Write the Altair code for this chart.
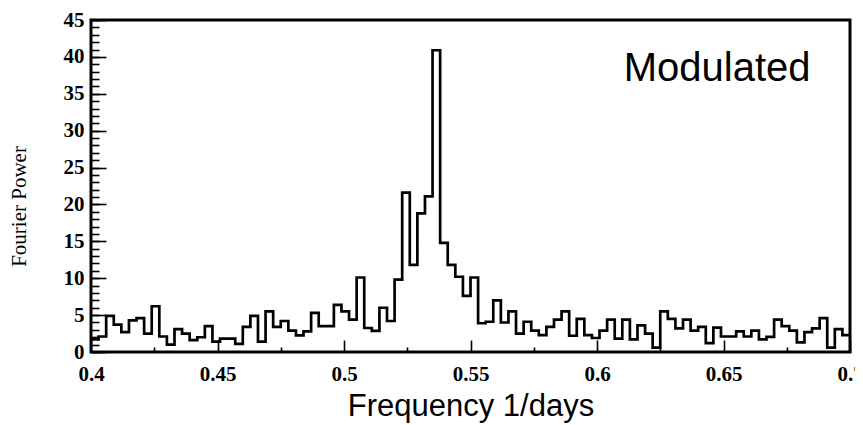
import altair as alt
import pandas as pd

# --- data ---
freq_start = 0.4
bin_width = 0.003
power = [
    1.7, 2.1, 4.9, 3.7, 2.7, 4.3, 4.6, 2.5, 6.2, 2.1,
    1.0, 3.1, 2.5, 1.6, 2.0, 3.5, 1.4, 1.8, 1.8, 1.1,
    3.4, 4.9, 1.4, 5.5, 3.4, 4.2, 2.9, 2.25, 2.8, 5.3,
    3.5, 3.5, 6.4, 5.5, 4.4, 10.1, 3.25, 2.85, 6.0, 4.2,
    9.8, 21.6, 11.8, 18.8, 21.1, 40.9, 14.8, 11.8, 10.2, 7.6,
    10.1, 3.9, 4.1, 7.0, 4.0, 5.5, 2.5, 4.1, 2.9, 2.3,
    3.4, 4.4, 5.5, 2.2, 4.5, 2.3, 1.9, 2.9, 4.4, 1.8,
    4.4, 1.7, 3.6, 2.5, 0.6, 5.5, 4.5, 3.2, 4.4, 2.9,
    3.4, 1.2, 3.3, 2.1, 2.1, 2.8, 2.1, 2.9, 1.7, 2.05,
    4.4, 3.5, 2.9, 1.3, 2.7, 3.2, 4.6, 0.6, 3.1, 2.3,
]
x_major = [0.4, 0.45, 0.5, 0.55, 0.6, 0.65, 0.7]
x_minor = [0.425, 0.475, 0.525, 0.575, 0.625, 0.675]
y_major = [0, 5, 10, 15, 20, 25, 30, 35, 40, 45]
y_minor = list(range(0, 46))
note_label = ["Modulated"]
note_freq = [0.6475]
note_power = [38.3]

edges = [round(freq_start + bin_width * i, 4) for i in range(len(power) + 1)]
df = pd.DataFrame({"freq": edges, "power": power + [power[-1]]})
ann = pd.DataFrame({"freq": note_freq, "power": note_power, "label": note_label})

xs = alt.Scale(domain=[0.4, 0.7], nice=False, zero=False)
ys = alt.Scale(domain=[0, 45], nice=False, zero=False)

lab = dict(labelFont="Liberation Serif", labelFontWeight="bold", labelFontSize=21,
           labelColor="black", labelOverlap=False, labelFlush=False, labelBound=False)

line = alt.Chart(df).mark_line(interpolate="step-after", color="black", strokeWidth=2.7).encode(
    x=alt.X("freq:Q", scale=xs, axis=alt.Axis(
        orient="bottom", values=x_major, format="~g", offset=-12, tickSize=12,
        tickWidth=1.6, tickColor="black", domain=False, grid=False, labelPadding=11,
        title="Frequency 1/days", titleFont="Liberation Sans", titleFontSize=31,
        titleFontWeight="normal", titleColor="black", titlePadding=7, **lab)),
    y=alt.Y("power:Q", scale=ys, axis=alt.Axis(
        orient="left", values=y_major, format="d", offset=-15, tickSize=15,
        tickWidth=1.6, tickColor="black", domain=False, grid=False, labelPadding=7,
        title="Fourier Power", titleFont="Liberation Serif", titleFontSize=21,
        titleFontWeight="normal", titleColor="black", titlePadding=34, titleY=186,
        **lab)),
)

text = alt.Chart(ann).mark_text(font="Liberation Sans", fontSize=40, align="center",
                                baseline="middle", color="black").encode(
    x=alt.X("freq:Q", scale=xs, axis=alt.Axis(
        orient="bottom", values=x_minor, offset=-5, tickSize=5, tickWidth=1.6,
        tickColor="black", labels=False, domain=False, grid=False, title="")),
    y=alt.Y("power:Q", scale=ys, axis=alt.Axis(
        orient="left", values=y_minor, offset=-8, tickSize=8, tickWidth=1.6,
        tickColor="black", labels=False, domain=False, grid=False, title="")),
    text="label:N",
)

chart = alt.layer(line, text).resolve_axis(x="independent", y="independent").properties(
    width=759, height=332,
    autosize=alt.AutoSizeParams(type="none"),
    padding={"left": 83, "top": 12, "right": 5, "bottom": 71},
    background="white",
).configure_view(stroke="black", strokeWidth=3)

chart.save("out.html", embed_options={"renderer": "svg", "actions": False})
